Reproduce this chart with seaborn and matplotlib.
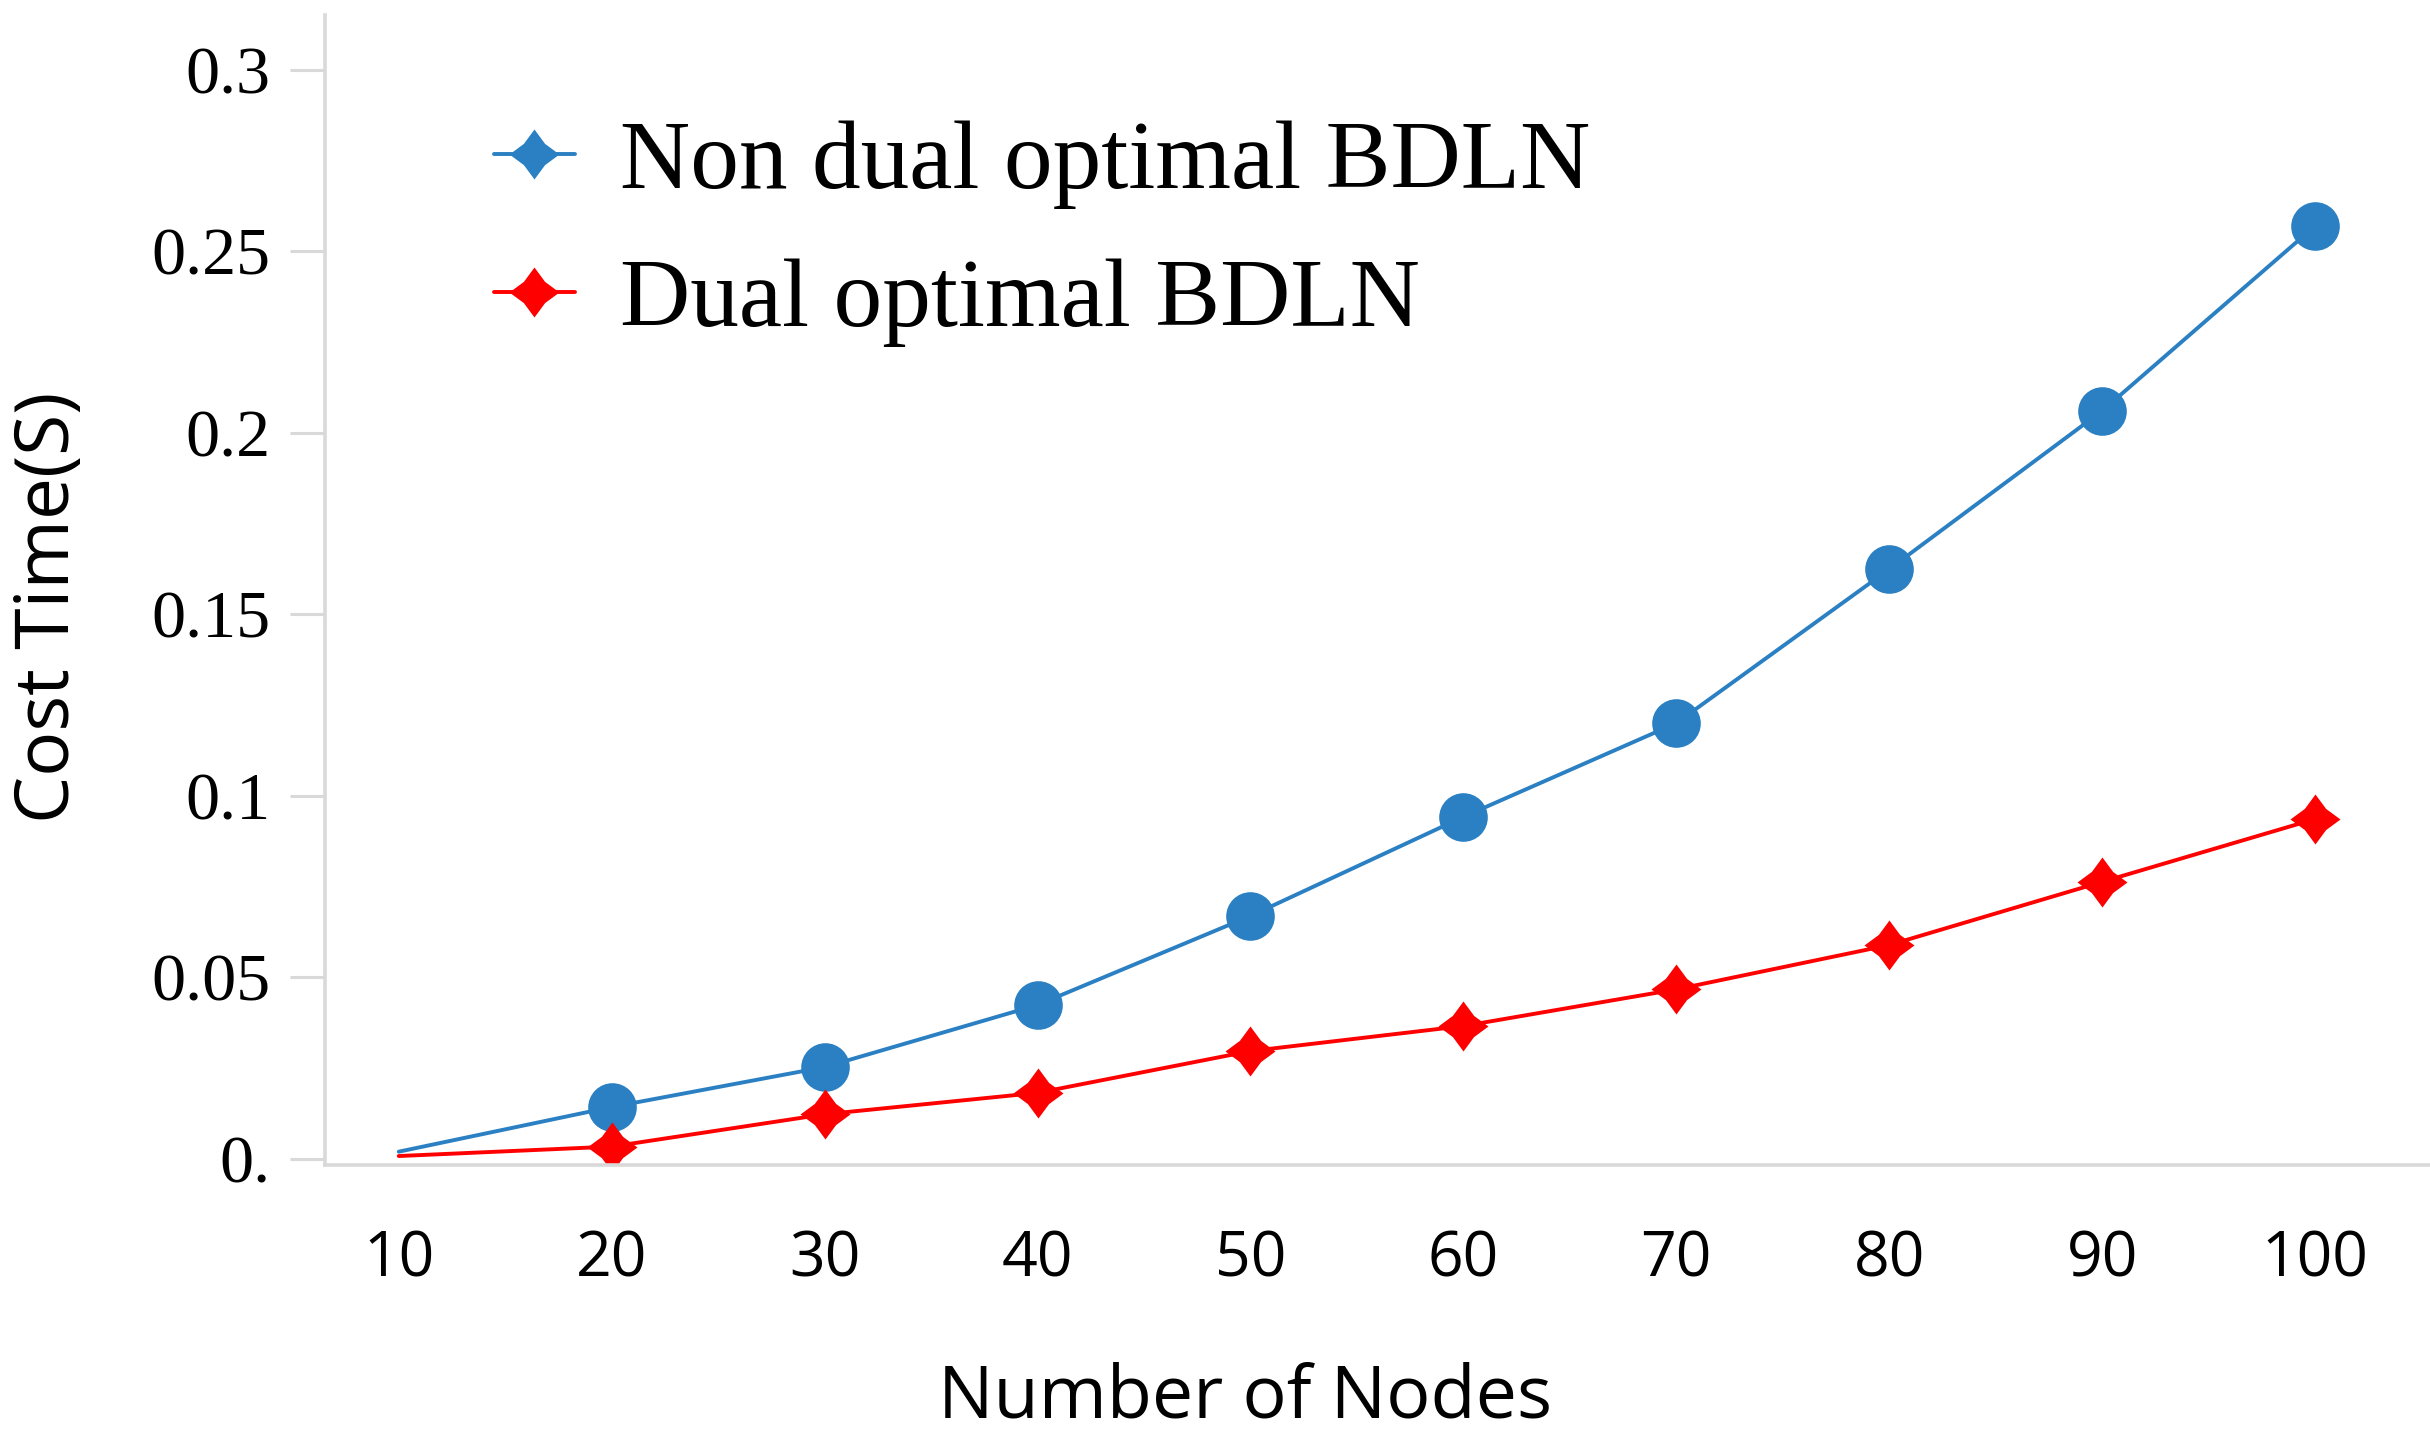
import numpy as np
import pandas as pd
import matplotlib
matplotlib.use("Agg")
import matplotlib.pyplot as plt
import seaborn as sns
from matplotlib.lines import Line2D
from matplotlib.path import Path

# valores
nodes = ["10", "20", "30", "40", "50", "60", "70", "80", "90", "100"]
non_dual = [0.002, 0.0143, 0.0253, 0.0424, 0.0669, 0.0942, 0.120, 0.1624, 0.206, 0.2569]
dual = [0.0008, 0.0034, 0.0123, 0.0182, 0.0297, 0.0366, 0.0467, 0.0589, 0.0763, 0.0936]
series_names = ["Non dual optimal BDLN", "Dual optimal BDLN"]
y_ticks = [0.0, 0.05, 0.1, 0.15, 0.2, 0.25, 0.3]
y_tick_labels = ["0.", "0.05", "0.1", "0.15", "0.2", "0.25", "0.3"]

BLUE = "#2a80c2"
RED = "#ff0000"
GRAY = "#d9d9d9"
# losango com lados levemente concavos
DIAMOND = Path.unit_regular_star(4, innerCircle=0.6)

sns.set_theme(style="white")
plt.rcParams["font.family"] = ["Open Sans", "DejaVu Sans"]

df = pd.DataFrame({
    "Nodes": nodes * 2,
    "Cost": non_dual + dual,
    "Serie": [series_names[0]] * len(nodes) + [series_names[1]] * len(nodes),
})

fig = plt.figure(figsize=(24.3, 14.35), dpi=100)
ax = fig.add_axes([0.1337, 0.1882, 0.8663, 0.8013])

sns.lineplot(data=df[df["Serie"] == series_names[0]], x="Nodes", y="Cost", sort=False,
             color=BLUE, linewidth=2.8, marker="o", markersize=35, markeredgewidth=0,
             markevery=slice(1, None), ax=ax, legend=False)
sns.lineplot(data=df[df["Serie"] == series_names[1]], x="Nodes", y="Cost", sort=False,
             color=RED, linewidth=2.8, marker=DIAMOND, markersize=36, markeredgewidth=0,
             markevery=slice(1, None), ax=ax, legend=False)

ax.set_xlim(-0.347, 9.54)
ax.set_ylim(-0.00165, 0.315)
ax.set_yticks(y_ticks)
ax.set_yticklabels(y_tick_labels, family=["Liberation Serif", "DejaVu Serif"], fontsize=49, color="black")
for lab in ax.get_xticklabels():
    lab.set_family(["Open Sans", "DejaVu Sans"])
    lab.set_fontsize(45)
    lab.set_color("black")
ax.tick_params(axis="y", length=25, width=2.2, color=GRAY, pad=14, left=True)
ax.tick_params(axis="x", length=0, pad=46)

for s in ["top", "right"]:
    ax.spines[s].set_visible(False)
for s in ["left", "bottom"]:
    ax.spines[s].set_color(GRAY)
    ax.spines[s].set_linewidth(2.6)

ax.set_xlabel("Number of Nodes", fontsize=53, color="black", va="center")
ax.xaxis.set_label_coords(0.437, -0.203)
ax.set_ylabel("Cost Time(S)", fontsize=54, color="black", va="center", ha="center")
ax.yaxis.set_label_coords(-0.131, 0.485)

handles = [
    Line2D([], [], color=BLUE, linewidth=2.8, marker=DIAMOND, markersize=36, markeredgewidth=0),
    Line2D([], [], color=RED, linewidth=2.8, marker=DIAMOND, markersize=36, markeredgewidth=0),
]
fig.legend(handles, series_names, loc="upper left", bbox_to_anchor=(0.2033, 0.9165),
           bbox_transform=fig.transFigure, frameon=False, borderpad=0, borderaxespad=0,
           handlelength=0.83, handletextpad=0.47, labelspacing=0.5, labelcolor="black",
           prop={"family": ["Liberation Serif", "DejaVu Serif"], "size": 70})

fig.savefig("out.png", dpi=100, facecolor="white")
